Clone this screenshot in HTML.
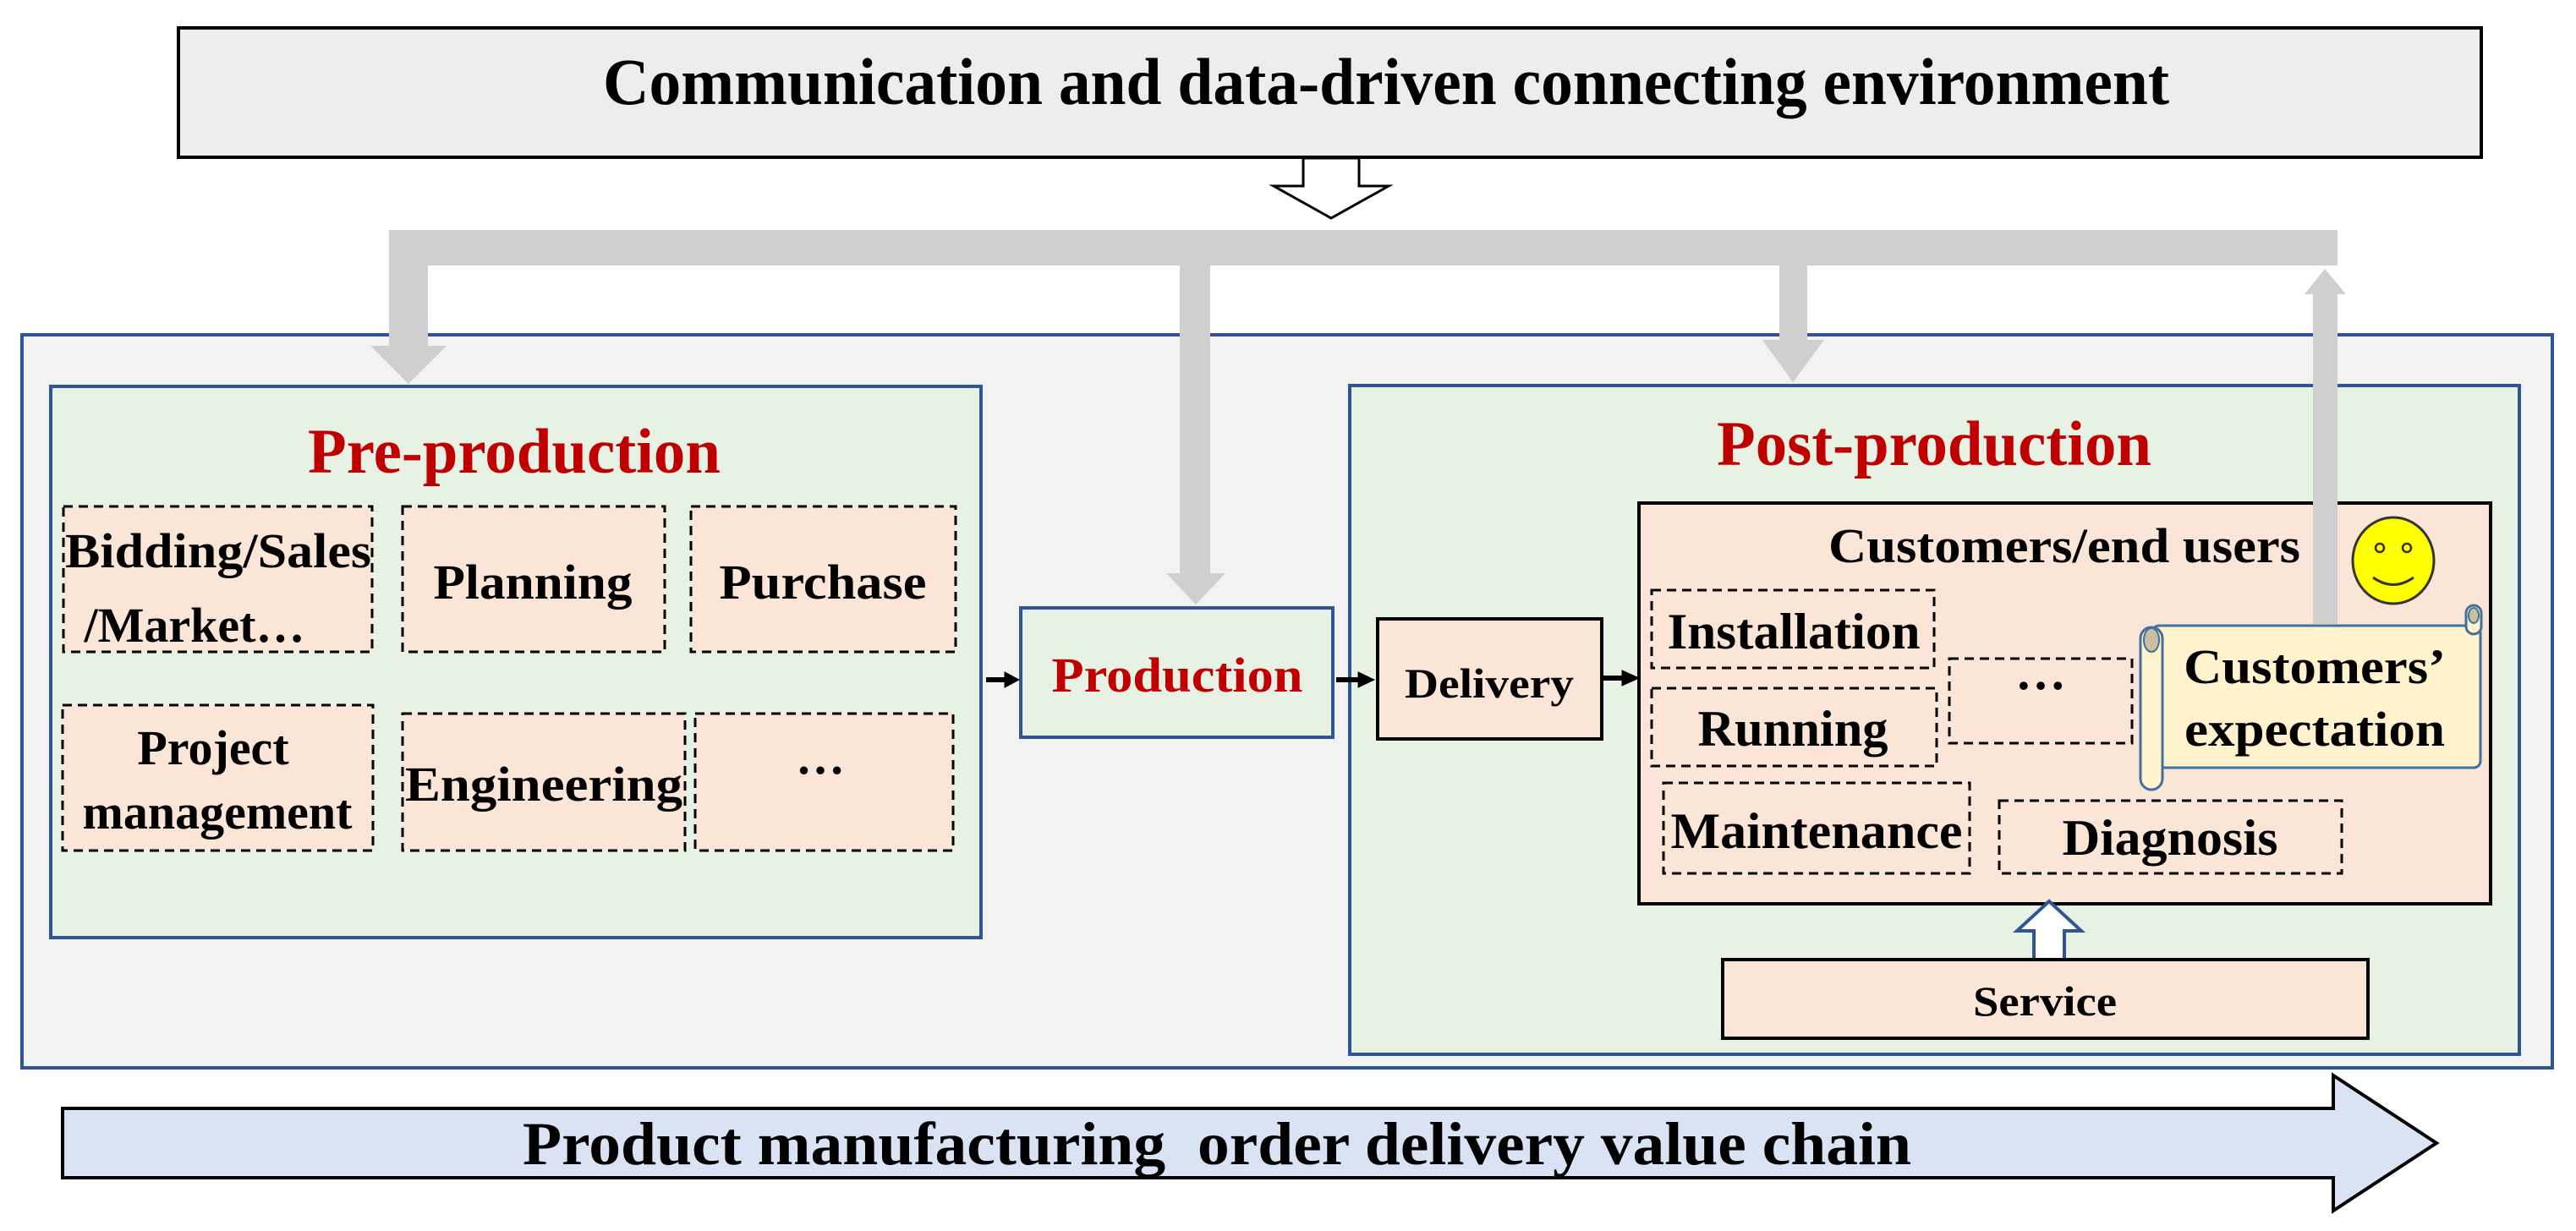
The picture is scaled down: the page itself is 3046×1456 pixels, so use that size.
<!DOCTYPE html>
<html><head><meta charset="utf-8"><style>
html,body{margin:0;padding:0;background:#fff;}
svg{display:block;}
text{font-family:"Liberation Serif",serif;font-weight:bold;}
</style></head><body>
<svg width="3046" height="1456" viewBox="0 0 3046 1456" xmlns="http://www.w3.org/2000/svg">
<!-- top box -->
<rect x="211" y="33" width="2723" height="153" fill="#ededed" stroke="#000" stroke-width="4"/>
<text x="1639" y="123" font-size="78" text-anchor="middle" textLength="1852" lengthAdjust="spacingAndGlyphs">Communication and data-driven connecting environment</text>
<polygon points="1541,187 1607,187 1607,220 1642,220 1574,258 1506,220 1541,220" fill="#fff" stroke="#000" stroke-width="3"/>

<!-- outer panel -->
<rect x="26" y="396" width="2992" height="867" fill="#f2f2f2" stroke="#2f5597" stroke-width="4"/>

<!-- gray connectors -->
<g fill="#d0cfd0">
<rect x="460" y="272" width="2304" height="42"/>
<rect x="460" y="272" width="46" height="140"/>
<polygon points="438,409 528,409 483,454"/>
<rect x="1395" y="300" width="36" height="380"/>
<polygon points="1379,678 1449,678 1414,715"/>
<rect x="2104" y="300" width="33" height="104"/>
<polygon points="2084,402 2157,402 2120,452"/>
</g>

<!-- pre-production -->
<rect x="60" y="457" width="1100" height="652" fill="#e8f2e4" stroke="#2f5597" stroke-width="4"/>
<text x="608" y="559" font-size="75" fill="#c00000" text-anchor="middle" textLength="488" lengthAdjust="spacingAndGlyphs">Pre-production</text>
<g fill="#fbe5d6" stroke="#000" stroke-width="3" stroke-dasharray="11,7">
<rect x="75" y="599" width="365" height="172"/>
<rect x="476" y="599" width="310" height="172"/>
<rect x="817" y="599" width="313" height="172"/>
<rect x="74" y="834" width="367" height="172"/>
<rect x="476" y="844" width="334" height="162"/>
<rect x="822" y="844" width="305" height="162"/>
</g>
<g font-size="58" text-anchor="middle">
<text x="258" y="671" textLength="362" lengthAdjust="spacingAndGlyphs">Bidding/Sales</text>
<text x="230" y="759">/Market…</text>
<text x="630" y="708" textLength="235" lengthAdjust="spacingAndGlyphs">Planning</text>
<text x="973" y="708" textLength="245" lengthAdjust="spacingAndGlyphs">Purchase</text>
<text x="252" y="904">Project</text>
<text x="257" y="980">management</text>
<text x="643" y="947" textLength="328" lengthAdjust="spacingAndGlyphs">Engineering</text>
<text x="970" y="915">…</text>
</g>

<!-- production -->
<rect x="1207" y="719" width="369" height="153" fill="#e8f2e4" stroke="#2f5597" stroke-width="4"/>
<text x="1392" y="818" font-size="58" fill="#c00000" text-anchor="middle" textLength="297" lengthAdjust="spacingAndGlyphs">Production</text>

<!-- post-production -->
<rect x="1596" y="456" width="1383" height="791" fill="#e8f2e4" stroke="#2f5597" stroke-width="4"/>
<text x="2287" y="550" font-size="75" fill="#c00000" text-anchor="middle" textLength="514" lengthAdjust="spacingAndGlyphs">Post-production</text>
<rect x="1629" y="732" width="265" height="142" fill="#fbe5d6" stroke="#000" stroke-width="4"/>
<text x="1761" y="825" font-size="50" text-anchor="middle" textLength="200" lengthAdjust="spacingAndGlyphs">Delivery</text>

<rect x="1938" y="595" width="1007" height="474" fill="#fbe5d6" stroke="#000" stroke-width="4"/>
<text x="2441" y="665" font-size="58" text-anchor="middle" textLength="558" lengthAdjust="spacingAndGlyphs">Customers/end users</text>
<ellipse cx="2830" cy="663" rx="48" ry="51" fill="#ffff00" stroke="#333" stroke-width="3"/>
<circle cx="2814" cy="648" r="5" fill="none" stroke="#333" stroke-width="2.5"/>
<circle cx="2846" cy="648" r="5" fill="none" stroke="#333" stroke-width="2.5"/>
<path d="M2806,683 Q2830,700 2854,683" fill="none" stroke="#333" stroke-width="3"/>

<!-- flow arrows -->
<g fill="#000" stroke="#000">
<line x1="1166" y1="804" x2="1190" y2="804" stroke-width="6"/>
<polygon points="1188,795 1205,804 1188,813"/>
<line x1="1580" y1="804" x2="1608" y2="804" stroke-width="6"/>
<polygon points="1606,795 1625,804 1606,813"/>
<line x1="1896" y1="802" x2="1920" y2="802" stroke-width="6"/>
<polygon points="1918,793 1938,802 1918,811"/>
</g>

<g fill="none" stroke="#000" stroke-width="3" stroke-dasharray="11,7">
<rect x="1953" y="698" width="334" height="92"/>
<rect x="1953" y="814" width="337" height="92"/>
<rect x="2305" y="779" width="216" height="100"/>
<rect x="1967" y="926" width="362" height="107"/>
<rect x="2364" y="947" width="405" height="86"/>
</g>
<g font-size="60" text-anchor="middle">
<text x="2121" y="767" textLength="299" lengthAdjust="spacingAndGlyphs">Installation</text>
<text x="2120" y="882" textLength="225" lengthAdjust="spacingAndGlyphs">Running</text>
<text x="2413" y="815">…</text>
<text x="2148" y="1003" textLength="345" lengthAdjust="spacingAndGlyphs">Maintenance</text>
<text x="2566" y="1011" textLength="255" lengthAdjust="spacingAndGlyphs">Diagnosis</text>
</g>

<!-- right gray up arrow (on top) -->
<g fill="#d0cfd0">
<rect x="2735" y="340" width="29" height="398"/>
<polygon points="2725,348 2774,348 2749,318"/>
</g>

<!-- scroll -->
<rect x="2545" y="740" width="388" height="168" rx="8" fill="#fff2cc" stroke="#41719c" stroke-width="3"/>
<rect x="2531" y="742" width="26" height="192" rx="13" fill="#fff2cc" stroke="#41719c" stroke-width="3"/>
<ellipse cx="2544" cy="757" rx="9" ry="14" fill="#c9c0a0" stroke="#41719c" stroke-width="2"/>
<rect x="2916" y="716" width="18" height="34" rx="9" fill="#fff2cc" stroke="#41719c" stroke-width="3"/>
<ellipse cx="2925" cy="728" rx="6" ry="9" fill="#c9c0a0" stroke="#41719c" stroke-width="2"/>
<text x="2737" y="808" font-size="58" text-anchor="middle" textLength="310" lengthAdjust="spacingAndGlyphs">Customers’</text>
<text x="2737" y="882" font-size="58" text-anchor="middle" textLength="308" lengthAdjust="spacingAndGlyphs">expectation</text>

<!-- service -->
<polygon points="2405,1137 2441,1137 2441,1101 2461,1101 2423,1066 2385,1101 2405,1101" fill="#fff" stroke="#2f5597" stroke-width="4"/>
<rect x="2037" y="1135" width="763" height="93" fill="#fbe5d6" stroke="#000" stroke-width="4"/>
<text x="2418" y="1201" font-size="50" text-anchor="middle" textLength="170" lengthAdjust="spacingAndGlyphs">Service</text>

<!-- bottom arrow -->
<polygon points="74,1311 2759,1311 2759,1272 2881,1352 2759,1432 2759,1393 74,1393" fill="#dae3f3" stroke="#000" stroke-width="4"/>
<text x="1439" y="1377" font-size="72" text-anchor="middle" textLength="1642" lengthAdjust="spacingAndGlyphs" xml:space="preserve">Product manufacturing  order delivery value chain</text>
</svg>
</body></html>
